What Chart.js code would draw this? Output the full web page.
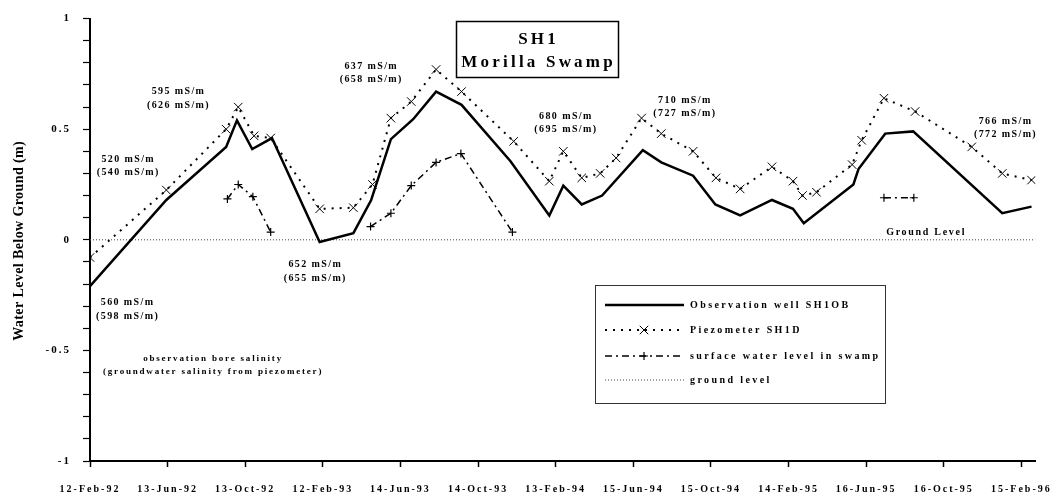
<!DOCTYPE html>
<html>
<head>
<meta charset="utf-8">
<script src="https://cdn.jsdelivr.net/npm/chart.js@4/dist/chart.umd.min.js"></script>
<style>
  body { margin: 0; background: #fff; }
  canvas { display: block; }
</style>
</head>
<body>
<canvas id="chart" width="1059" height="497"></canvas>
<script>
// x values are days since 12-Feb-92
const tickDays = [0, 122, 244, 366, 488, 610, 732, 854, 976, 1098, 1220, 1342, 1464];
const tickLabels = ["12-Feb-92", "13-Jun-92", "13-Oct-92", "12-Feb-93", "14-Jun-93", "14-Oct-93",
    "13-Feb-94", "15-Jun-94", "15-Oct-94", "14-Feb-95", "16-Jun-95", "16-Oct-95", "15-Feb-96"];
const lastDay = 1486;

const wellDays = [0, 120, 214, 231, 255, 286, 361, 414, 442, 473, 508, 544, 584, 661, 722, 744,
    773, 805, 869, 898, 948, 983, 1022, 1072, 1105, 1122, 1200, 1208, 1250, 1294, 1434, 1480];
const wellLevels = [-0.21, 0.18, 0.42, 0.54, 0.41, 0.46, -0.01, 0.03, 0.18, 0.455, 0.545, 0.67, 0.61,
    0.355, 0.11, 0.245, 0.16, 0.2, 0.405, 0.35, 0.29, 0.16, 0.11, 0.18, 0.14, 0.075, 0.25, 0.32,
    0.48, 0.49, 0.12, 0.15];

const piezoDays = [0, 120, 214, 233, 258, 284, 361, 414, 444, 473, 505, 544, 584, 666, 722, 744,
    773, 802, 827, 867, 898, 948, 984, 1022, 1072, 1105, 1120, 1142, 1198, 1213, 1248, 1297,
    1386, 1434, 1480];
const piezoLevels = [-0.08, 0.225, 0.5, 0.6, 0.47, 0.46, 0.14, 0.145, 0.25, 0.55, 0.625, 0.77, 0.67,
    0.445, 0.265, 0.4, 0.28, 0.3, 0.37, 0.55, 0.48, 0.4, 0.28, 0.23, 0.33, 0.265, 0.2, 0.215,
    0.34, 0.45, 0.64, 0.58, 0.42, 0.3, 0.27];

// null = no surface water recorded
const swampDays = [216, 233, 256, 284, 360, 441, 473, 505, 544, 583, 664, 900, 1248, 1295];
const swampLevels = [0.185, 0.25, 0.195, 0.035, null, 0.06, 0.12, 0.245, 0.35, 0.39, 0.035, null, 0.19, 0.19];

const groundDays = [0, lastDay];
const groundLevels = [0, 0];

const notes = [
    { day: 138, level: 0.67, lines: ["595 mS/m", "(626 mS/m)"] },
    { day: 59, level: 0.365, lines: ["520 mS/m", "(540 mS/m)"] },
    { day: 58, level: -0.284, lines: ["560 mS/m", "(598 mS/m)"] },
    { day: 353, level: -0.113, lines: ["652 mS/m", "(655 mS/m)"] },
    { day: 441, level: 0.784, lines: ["637 mS/m", "(658 mS/m)"] },
    { day: 747, level: 0.559, lines: ["680 mS/m", "(695 mS/m)"] },
    { day: 934, level: 0.631, lines: ["710 mS/m", "(727 mS/m)"] },
    { day: 1438, level: 0.536, lines: ["766 mS/m", "(772 mS/m)"] },
];

const serif = '"Liberation Serif", "Times New Roman", serif';
const toPoints = (days, levels) => days.map((d, i) => ({ x: d, y: levels[i] }));

const datasets = [
    {
        label: "Observation well SH1OB",
        data: toPoints(wellDays, wellLevels),
        borderColor: "#000",
        borderWidth: 2.5,
        pointRadius: 0,
        tension: 0,
    },
    {
        label: "Piezometer SH1D",
        data: toPoints(piezoDays, piezoLevels),
        borderColor: "#000",
        borderWidth: 2,
        borderDash: [2, 6],
        pointStyle: "crossRot",
        pointRadius: 6,
        pointBorderWidth: 1,
        pointBorderColor: "#000",
        tension: 0,
    },
    {
        label: "surface water level in swamp",
        data: toPoints(swampDays, swampLevels),
        borderColor: "#000",
        borderWidth: 1.5,
        borderDash: [7, 4, 2, 4],
        pointStyle: "cross",
        pointRadius: 4,
        pointBorderWidth: 1.2,
        pointBorderColor: "#000",
        spanGaps: false,
        tension: 0,
    },
    {
        label: "ground level",
        data: toPoints(groundDays, groundLevels),
        borderColor: "#444",
        borderWidth: 1,
        borderDash: [1, 2],
        pointRadius: 0,
    },
];

function drawSpaced(ctx, text, x, y, font, spacing, align) {
    ctx.font = font;
    ctx.letterSpacing = spacing + "px";
    const w = ctx.measureText(text).width - spacing;
    ctx.textAlign = "left";
    let left = x;
    if (align === "center") left = x - w / 2;
    ctx.fillText(text, left, y);
}

function drawMarker(ctx, style, x, y, r) {
    ctx.beginPath();
    if (style === "crossRot") {
        const d = r * 0.7071;
        ctx.moveTo(x - d, y - d); ctx.lineTo(x + d, y + d);
        ctx.moveTo(x - d, y + d); ctx.lineTo(x + d, y - d);
    } else {
        ctx.moveTo(x - r, y); ctx.lineTo(x + r, y);
        ctx.moveTo(x, y - r); ctx.lineTo(x, y + r);
    }
    ctx.stroke();
}

const decorations = {
    id: "decorations",
    beforeDraw(chart) {
        chart.ctx.letterSpacing = "2px";
    },
    afterDraw(chart) {
        const ctx = chart.ctx;
        const xs = chart.scales.x, ys = chart.scales.y;
        ctx.save();
        ctx.fillStyle = "#000";
        ctx.strokeStyle = "#000";
        ctx.textBaseline = "middle";

        // salinity notes
        notes.forEach((n) => {
            const px = xs.getPixelForValue(n.day);
            const py = ys.getPixelForValue(n.level);
            n.lines.forEach((line, i) => {
                drawSpaced(ctx, line, px, py + i * 13.5, `bold 10px ${serif}`, 1.4, "center");
            });
        });
        const bx = xs.getPixelForValue(192), by = ys.getPixelForValue(-0.536);
        drawSpaced(ctx, "observation bore salinity", bx, by, `bold 9px ${serif}`, 1.8, "center");
        drawSpaced(ctx, "(groundwater salinity from piezometer)", bx, by + 13, `bold 9px ${serif}`, 1.8, "center");
        drawSpaced(ctx, "Ground Level", xs.getPixelForValue(1313), ys.getPixelForValue(0.032),
            `bold 10px ${serif}`, 1.7, "center");

        // title box
        ctx.lineWidth = 1.5;
        ctx.setLineDash([]);
        ctx.strokeRect(456.5, 21.5, 162, 56);
        drawSpaced(ctx, "SH1", 537, 40, `bold 17px ${serif}`, 3.2, "center");
        drawSpaced(ctx, "Morilla Swamp", 537, 63, `bold 17px ${serif}`, 3.2, "center");

        // legend
        ctx.lineWidth = 1;
        ctx.strokeStyle = "#333";
        ctx.strokeRect(595.5, 285.5, 290, 118);
        const rows = [305, 330, 356, 380];
        chart.data.datasets.forEach((ds, i) => {
            const y = rows[i];
            ctx.strokeStyle = ds.borderColor;
            ctx.lineWidth = ds.borderWidth;
            ctx.setLineDash(ds.borderDash || []);
            ctx.beginPath();
            ctx.moveTo(605, y);
            ctx.lineTo(684, y);
            ctx.stroke();
            ctx.setLineDash([]);
            if (ds.pointRadius > 0) {
                ctx.lineWidth = ds.pointBorderWidth;
                drawMarker(ctx, ds.pointStyle, 644, y, ds.pointRadius);
            }
            drawSpaced(ctx, ds.label, 690, y, `bold 10px ${serif}`, 2.4, "left");
        });

        // y axis title
        ctx.translate(19, 241);
        ctx.rotate(-Math.PI / 2);
        drawSpaced(ctx, "Water Level Below Ground (m)", 0, 0, `bold 14px ${serif}`, 0.4, "center");
        ctx.restore();
        ctx.letterSpacing = "0px";
    },
};

new Chart(document.getElementById("chart"), {
    type: "line",
    data: { datasets },
    options: {
        responsive: false,
        devicePixelRatio: 1,
        animation: false,
        layout: { padding: { top: 16, right: 18, left: 0, bottom: 0 } },
        plugins: { legend: { display: false }, tooltip: { enabled: false } },
        scales: {
            x: {
                type: "linear",
                min: 0,
                max: lastDay,
                afterBuildTicks: (scale) => {
                    scale.ticks = tickDays.map((v) => ({ value: v }));
                },
                afterFit: (scale) => {
                    scale.height = 36;
                },
                border: { color: "#000", width: 2 },
                grid: { drawOnChartArea: false, tickLength: 6, tickColor: "#000", tickWidth: 1.5 },
                ticks: {
                    autoSkip: false,
                    maxRotation: 0,
                    padding: 16,
                    color: "#000",
                    font: { family: serif, size: 10, weight: "bold" },
                    callback: (value) => {
                        const i = tickDays.indexOf(value);
                        return i >= 0 ? tickLabels[i] : "";
                    },
                },
            },
            y: {
                min: -1,
                max: 1,
                afterFit: (scale) => {
                    scale.width = 90;
                },
                border: { color: "#000", width: 2 },
                grid: { drawOnChartArea: false, tickLength: 7, tickColor: "#000", tickWidth: 1.2 },
                ticks: {
                    stepSize: 0.1,
                    autoSkip: false,
                    padding: 12,
                    color: "#000",
                    font: { family: serif, size: 11, weight: "bold" },
                    callback: (value) => {
                        const r = Math.round(value * 10) / 10;
                        return Math.abs(r * 2 - Math.round(r * 2)) < 1e-6 ? String(r) : "";
                    },
                },
            },
        },
    },
    plugins: [decorations],
});
</script>
</body>
</html>
